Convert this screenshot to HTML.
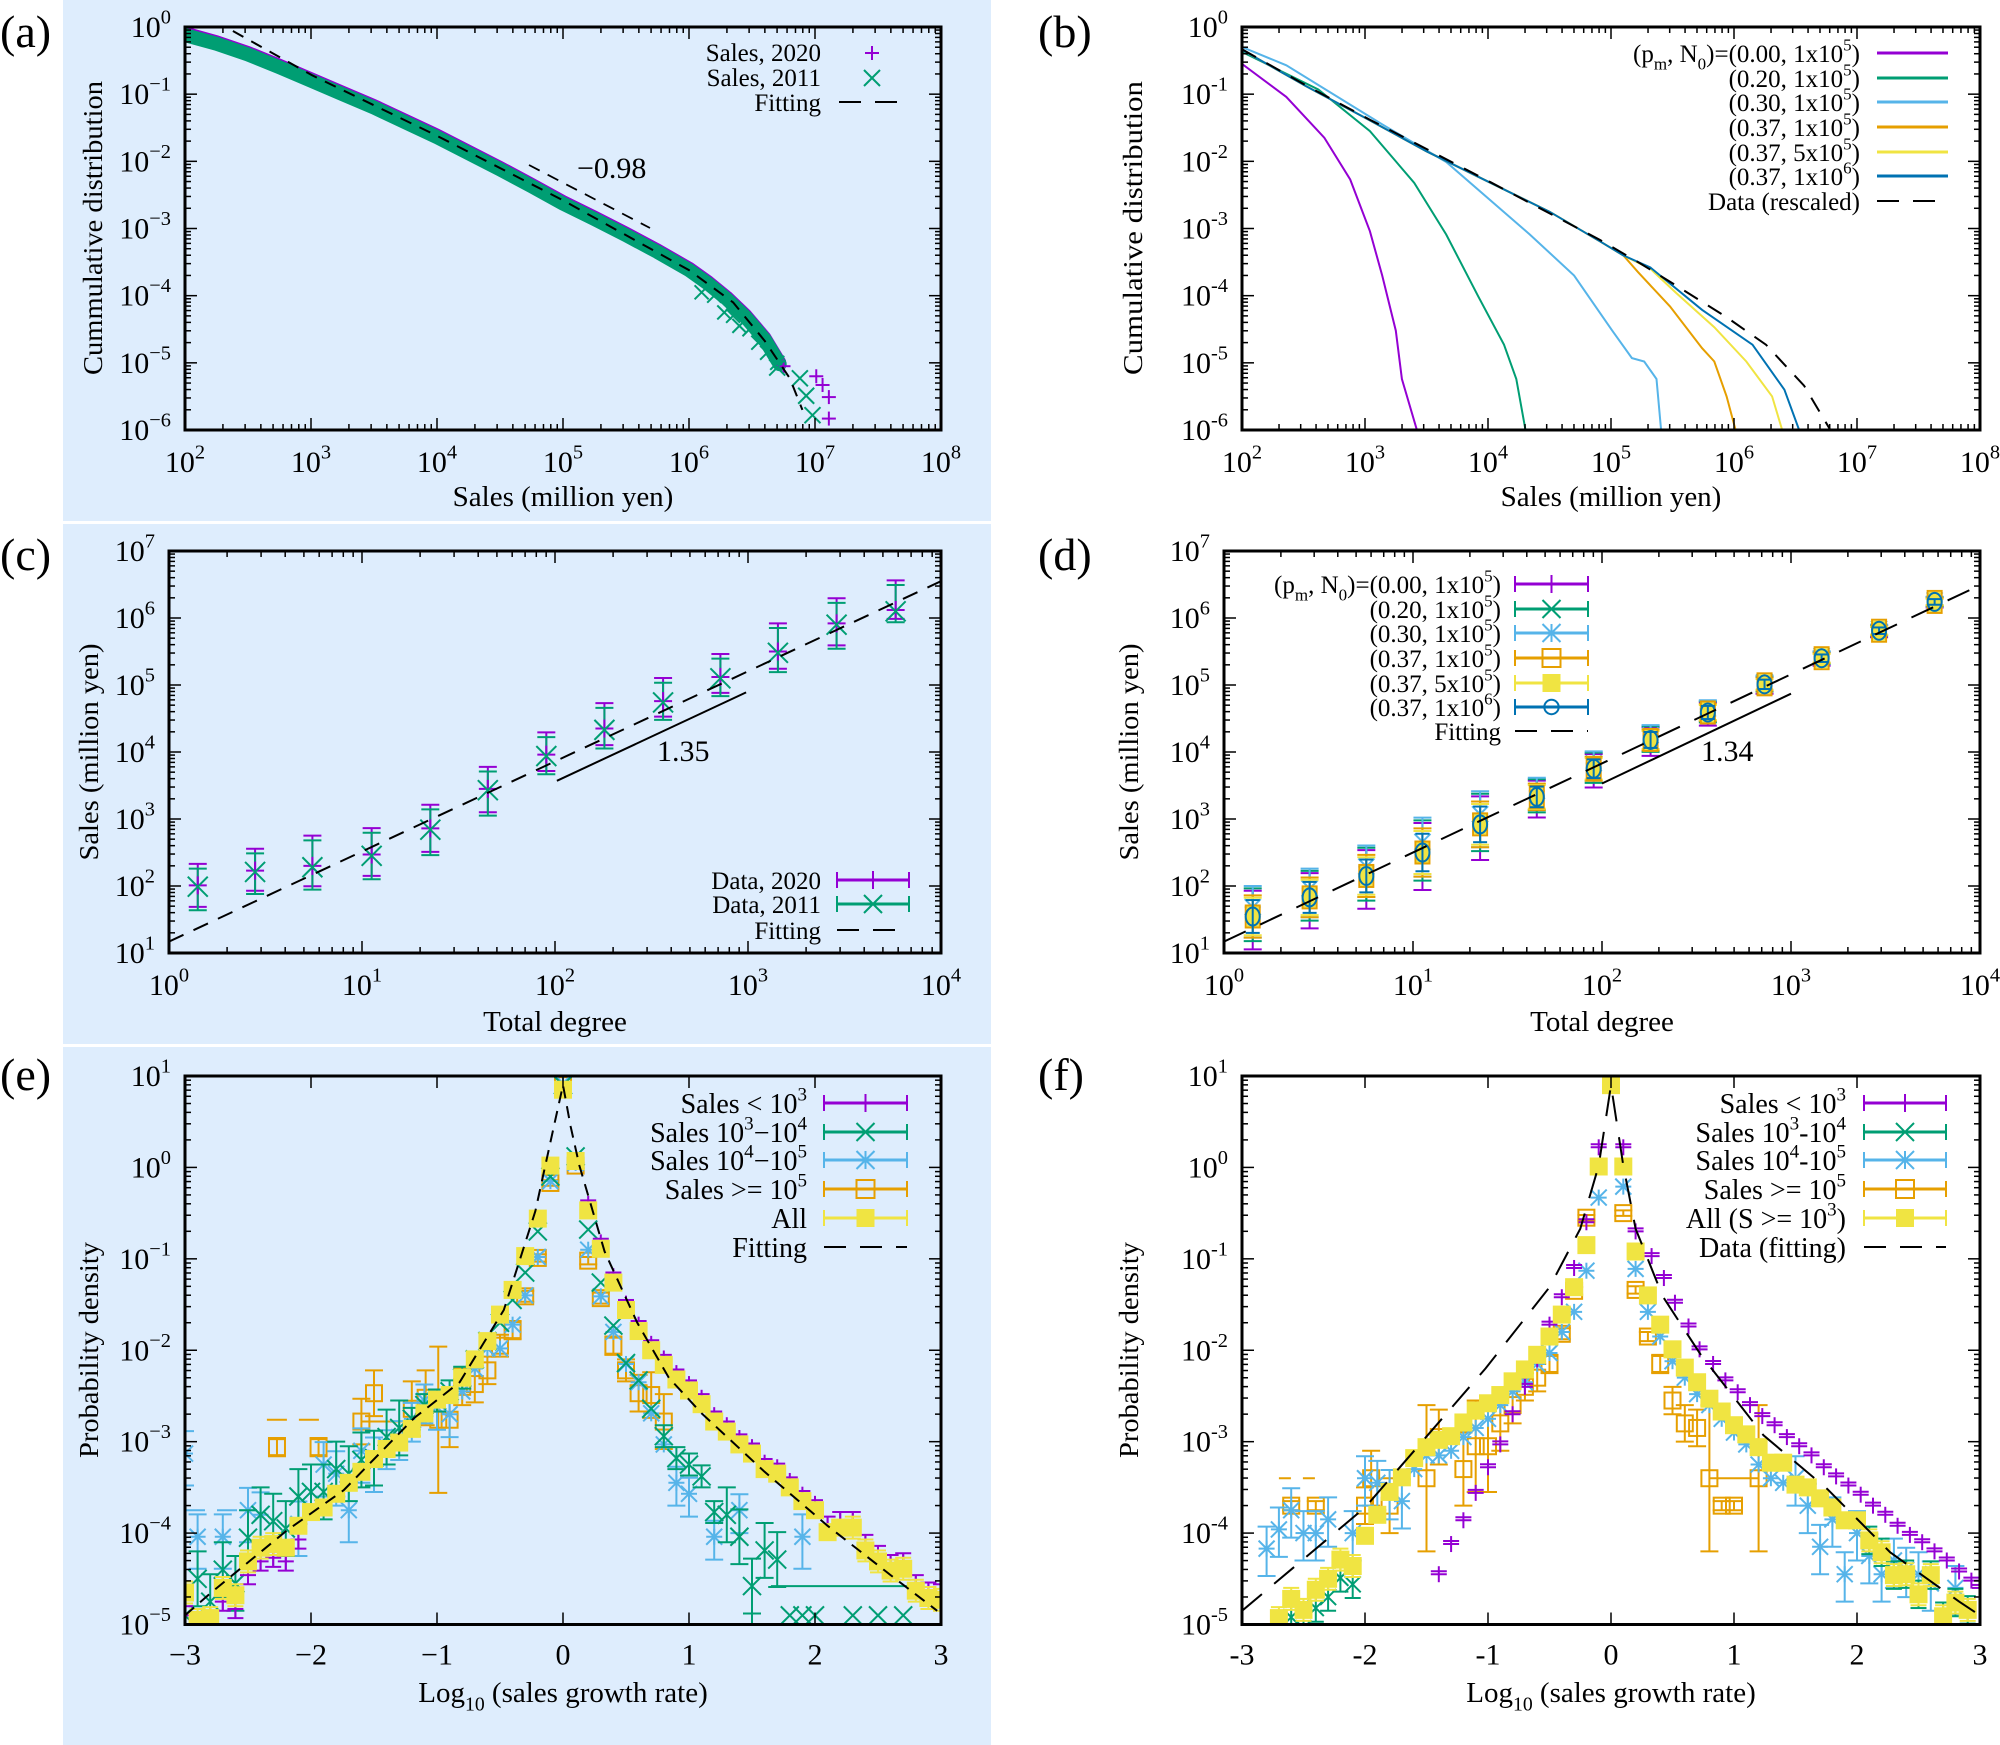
<!DOCTYPE html>
<html><head><meta charset="utf-8"><style>
html,body{margin:0;padding:0;background:#fff;}
svg{display:block;font-family:"Liberation Serif",serif;}
</style></head><body>
<svg id="s" width="2000" height="1745" viewBox="0 0 2000 1745" xmlns="http://www.w3.org/2000/svg">
<rect x="63" y="0" width="928" height="521" fill="#deedfd"/>
<rect x="63" y="524" width="928" height="520" fill="#deedfd"/>
<rect x="63" y="1047" width="928" height="698" fill="#deedfd"/>
</svg>
<script>
const NS='http://www.w3.org/2000/svg';
const svg=document.getElementById('s');
function el(tag,a,p){const e=document.createElementNS(NS,tag);for(const k in a)e.setAttribute(k,a[k]);(p||svg).appendChild(e);return e;}
function lab(x,y,parts,size,anchor,p,extra){
  const t=el('text',Object.assign({x:x,y:y,'font-size':size,'text-anchor':anchor||'start',fill:'#000'},extra||{}),p);
  let cur=0;
  for(const pt of parts){
    let s=pt,m='n'; if(Array.isArray(pt)){s=pt[0];m=pt[1];}
    const ts=document.createElementNS(NS,'tspan');
    let target=0,fs=size;
    if(m==='sup'){target=-0.45*size;fs=0.68*size;}
    if(m==='sub'){target=0.3*size;fs=0.68*size;}
    ts.setAttribute('dy',(target-cur).toFixed(1));ts.setAttribute('font-size',fs);
    ts.textContent=s;cur=target;t.appendChild(ts);
  }
  return t;
}
function Panel(x0,x1,y0,y1,xa,xb,ya,yb,xlog,ylog,id){
  const P={x0:x0,x1:x1,y0:y0,y1:y1,xa:xa,xb:xb,ya:ya,yb:yb,
    X:function(v){return x0+(v-xa)/(xb-xa)*(x1-x0);},Y:function(v){return y1-(v-ya)/(yb-ya)*(y1-y0);}};
  const cp=el('clipPath',{id:id});el('rect',{x:x0,y:y0,width:x1-x0,height:y1-y0},cp);
  P.g=el('g',{'clip-path':'url(#'+id+')'});
  const tk=function(v,major,axis){const L=major?12:6;
    if(axis==='x'){const x=P.X(v);el('line',{x1:x,y1:y1,x2:x,y2:y1-L,stroke:'#000','stroke-width':1.5});el('line',{x1:x,y1:y0,x2:x,y2:y0+L,stroke:'#000','stroke-width':1.5});}
    else{const y=P.Y(v);el('line',{x1:x0,y1:y,x2:x0+L,y2:y,stroke:'#000','stroke-width':1.5});el('line',{x1:x1,y1:y,x2:x1-L,y2:y,stroke:'#000','stroke-width':1.5});}};
  for(let d=xa;d<=xb;d++){tk(d,true,'x');if(xlog&&d<xb)for(let k=2;k<10;k++)tk(d+Math.log10(k),false,'x');}
  for(let d=ya;d<=yb;d++){tk(d,true,'y');if(ylog&&d<yb)for(let k=2;k<10;k++)tk(d+Math.log10(k),false,'y');}
  return P;
}
function frame(P){el('rect',{x:P.x0,y:P.y0,width:P.x1-P.x0,height:P.y1-P.y0,fill:'none',stroke:'#000','stroke-width':3});}
function xlabels(P,minus,log){for(let d=P.xa;d<=P.xb;d++){const x=P.X(d);
  if(log)lab(x,P.y1+42,['10',[String(d),'sup']],30,'middle');
  else lab(x,P.y1+40,[d<0?(minus+(-d)):String(d)],30,'middle');}}
function ylabels(P,minus){for(let d=P.ya;d<=P.yb;d++){const y=P.Y(d);
  lab(P.x0-14,y+10,['10',[d<0?minus+(-d):String(d),'sup']],30,'end');}}
function ytitle(x,yc,s,len){el('text',{x:0,y:0,transform:'translate('+x+','+yc+') rotate(-90)','text-anchor':'middle','font-size':27,textLength:len,lengthAdjust:'spacingAndGlyphs'}).textContent=s;}
function poly(P,pts,attrs,g){return el('polyline',Object.assign({points:pts.map(function(p){return P.X(p[0]).toFixed(1)+','+P.Y(p[1]).toFixed(1);}).join(' '),fill:'none'},attrs),g||P.g);}
const C={pu:'#9400d3',gr:'#009e73',lb:'#56b4e9',or:'#e69f00',ye:'#f0e442',db:'#0072b2'};
function mk(type,x,y,col,g,s){s=s||9;const sw=2;
  if(type==='+'||type==='*'){el('line',{x1:x-s,y1:y,x2:x+s,y2:y,stroke:col,'stroke-width':sw},g);el('line',{x1:x,y1:y-s,x2:x,y2:y+s,stroke:col,'stroke-width':sw},g);}
  if(type==='x'||type==='*'){el('line',{x1:x-s,y1:y-s,x2:x+s,y2:y+s,stroke:col,'stroke-width':sw},g);el('line',{x1:x-s,y1:y+s,x2:x+s,y2:y-s,stroke:col,'stroke-width':sw},g);}
  if(type==='os')el('rect',{x:x-s,y:y-s,width:2*s,height:2*s,fill:'none',stroke:col,'stroke-width':sw},g);
  if(type==='fs')el('rect',{x:x-s*0.75,y:y-s*0.75,width:1.5*s,height:1.5*s,fill:col},g);
  if(type==='oc')el('circle',{cx:x,cy:y,r:s*0.8,fill:'none',stroke:col,'stroke-width':sw},g);
}
function eb(x,ylo,yhi,col,g,w){w=w||9;el('line',{x1:x,y1:ylo,x2:x,y2:yhi,stroke:col,'stroke-width':2},g);
  el('line',{x1:x-w,y1:ylo,x2:x+w,y2:ylo,stroke:col,'stroke-width':2},g);el('line',{x1:x-w,y1:yhi,x2:x+w,y2:yhi,stroke:col,'stroke-width':2},g);}
function legLine(x1,x2,y,col,dash,mtype,g,bars){el('line',{x1:x1,y1:y,x2:x2,y2:y,stroke:col,'stroke-width':dash?2:3,'stroke-dasharray':dash?'22,14':'none'},g||svg);
  if(bars){el('line',{x1:x1,y1:y-8,x2:x1,y2:y+8,stroke:col,'stroke-width':2});el('line',{x1:x2,y1:y-8,x2:x2,y2:y+8,stroke:col,'stroke-width':2});}
  if(mtype)mk(mtype,(x1+x2)/2,y,col,svg,mtype==='fs'?12:9);}

/* ===== (a) ===== */
lab(0,47,['(a)'],46);
(function(){const P=Panel(185,941,27,430,2,8,-6,0,true,true,'ca');
 const band=[[2,-0.12],[2.25,-0.25],[2.5,-0.41],[2.75,-0.6],[3,-0.8],[3.25,-1.0],[3.5,-1.2],[3.75,-1.42],[4,-1.64],[4.25,-1.88],[4.5,-2.12],[4.75,-2.37],[5,-2.63],[5.25,-2.86],[5.5,-3.1],[5.75,-3.35],[6,-3.62],[6.15,-3.82],[6.3,-4.05],[6.45,-4.32],[6.6,-4.65],[6.72,-5.02]];
 poly(P,band.map(function(p){return [p[0],p[1]+0.03];}),{stroke:C.pu,'stroke-width':13,'stroke-linecap':'round','stroke-linejoin':'round'});
 poly(P,band,{stroke:C.gr,'stroke-width':14,'stroke-linecap':'round','stroke-linejoin':'round'});
 [[6.1,-3.95],[6.2,-4.0],[6.28,-4.25],[6.35,-4.3],[6.4,-4.45],[6.48,-4.5],[6.55,-4.7],[6.62,-4.85],[6.7,-5.0]].forEach(function(p){mk('x',P.X(p[0]),P.Y(p[1]),C.gr,P.g,7);});
 [[6.75,-5.05],[7.01,-5.2],[7.06,-5.33],[7.11,-5.51],[7.11,-5.83]].forEach(function(p){mk('+',P.X(p[0]),P.Y(p[1]),C.pu,P.g,7);});
 [[6.7,-5.07],[6.88,-5.23],[6.93,-5.49],[6.98,-5.78]].forEach(function(p){mk('x',P.X(p[0]),P.Y(p[1]),C.gr,P.g,8);});
 poly(P,[[2.38,-0.06],[3.01,-0.72],[4.0,-1.62],[5.0,-2.58],[6.0,-3.62],[6.35,-4.1],[6.6,-4.67],[6.8,-5.23],[6.9,-5.7]],{stroke:'#000','stroke-width':2,'stroke-dasharray':'12,9'});
 el('line',{x1:529,y1:165,x2:650,y2:228,stroke:'#000','stroke-width':1.8,'stroke-dasharray':'12,9'});
 lab(577,178,['−0.98'],30);
 frame(P);xlabels(P,'−',true);ylabels(P,'−');
 lab(563,506,['Sales (million yen)'],29,'middle');
 ytitle(102,228,'Cummulative distribution',294);
 lab(821,61,['Sales, 2020'],25,'end');mk('+',872,53,C.pu,svg,7);
 lab(821,86,['Sales, 2011'],25,'end');mk('x',872,78,C.gr,svg,8);
 lab(821,111,['Fitting'],25,'end');legLine(839,909,102,'#000',true);
})();
/* ===== (b) ===== */
lab(1038,47,['(b)'],46);
(function(){const P=Panel(1242,1980,27,430,2,8,-6,0,true,true,'cb');
 const common=[[2,-0.34],[2.52,-0.88],[3.04,-1.39],[3.5,-1.85],[4.02,-2.32],[4.5,-2.75],[4.91,-3.19],[5.1,-3.4]];
 poly(P,[[2,-0.55],[2.36,-1.04],[2.67,-1.65],[2.88,-2.27],[3.04,-3.04],[3.14,-3.7],[3.25,-4.52],[3.3,-5.24],[3.43,-6.05]],{stroke:C.pu,'stroke-width':2});
 poly(P,[[2,-0.37],[2.62,-0.93],[3.04,-1.55],[3.4,-2.32],[3.66,-3.09],[3.92,-4.01],[4.13,-4.73],[4.23,-5.24],[4.31,-6.05]],{stroke:C.gr,'stroke-width':2});
 poly(P,[[2,-0.3],[2.36,-0.57],[3.14,-1.45],[3.66,-2.01],[4.34,-3.09],[4.7,-3.7],[5.01,-4.52],[5.17,-4.93],[5.27,-4.98],[5.37,-5.24],[5.41,-6.05]],{stroke:C.lb,'stroke-width':2});
 poly(P,common.concat([[5.22,-3.65],[5.48,-4.16],[5.74,-4.78],[5.84,-4.98],[5.94,-5.5],[6.02,-6.05]]),{stroke:C.or,'stroke-width':2});
 poly(P,common.concat([[5.32,-3.6],[5.53,-3.96],[5.84,-4.47],[6.1,-4.98],[6.31,-5.5],[6.4,-6.05]]),{stroke:C.ye,'stroke-width':2});
 poly(P,common.concat([[5.32,-3.58],[5.74,-4.21],[6.15,-4.73],[6.41,-5.4],[6.54,-6.05]]),{stroke:C.db,'stroke-width':2});
 poly(P,[[2,-0.33],[2.52,-0.87],[3.04,-1.38],[4.02,-2.31],[4.91,-3.17],[5.22,-3.5],[5.53,-3.85],[5.94,-4.32],[6.26,-4.73],[6.57,-5.34],[6.8,-6.05]],{stroke:'#000','stroke-width':2,'stroke-dasharray':'16,12'});
 frame(P);xlabels(P,'-',true);ylabels(P,'-');
 lab(1611,506,['Sales (million yen)'],29,'middle');
 ytitle(1142,228,'Cumulative distribution',294);
 const rows=[53,78,102,127,152,176,201];
 const lt=[['(p',['m','sub'],', N',['0','sub'],')=(0.00, 1x10',['5','sup'],')'],
  ['(0.20, 1x10',['5','sup'],')'],['(0.30, 1x10',['5','sup'],')'],['(0.37, 1x10',['5','sup'],')'],['(0.37, 5x10',['5','sup'],')'],['(0.37, 1x10',['6','sup'],')'],['Data (rescaled)']];
 const cols=[C.pu,C.gr,C.lb,C.or,C.ye,C.db,'#000'];
 rows.forEach(function(y,i){lab(1860,y+9,lt[i],25,'end');legLine(1877,1948,y,cols[i],i===6);});
})();
/* ===== (c) ===== */
lab(0,570,['(c)'],46);
(function(){const P=Panel(169,941,551,953,0,4,1,7,true,true,'cc');
 const xs=[0.149,0.446,0.743,1.05,1.354,1.652,1.955,2.256,2.56,2.857,3.155,3.459,3.765];
 const yc=[1.99,2.21,2.28,2.45,2.84,3.43,3.94,4.33,4.74,5.1,5.48,5.9,6.1];
 const up=[1007,963,925,903,835,725,625,540,467,397,308,235,183],dn=[1130,1083,1070,1040,970,855,735,660,577,508,438,370,293];
 const dy=function(v){return 7-(v-90)/194.7;};
 xs.forEach(function(x,i){const X=P.X(x);
  eb(X,P.Y(dy(dn[i])+0.03),P.Y(dy(up[i])+0.04),C.pu,P.g);
  eb(X,P.Y(dy(dn[i])-0.02),P.Y(dy(up[i])-0.03),C.gr,P.g);
  mk('+',X,P.Y(yc[i]+0.02),C.pu,P.g);mk('x',X,P.Y(yc[i]),C.gr,P.g,10);});
 poly(P,[[0,1.17],[4,6.55]],{stroke:'#000','stroke-width':2,'stroke-dasharray':'16,11'});
 poly(P,[[2.01,3.57],[2.99,4.89]],{stroke:'#000','stroke-width':2});
 lab(657,761,['1.35'],30);
 frame(P);xlabels(P,'−',true);ylabels(P,'−');
 lab(555,1031,['Total degree'],29,'middle');
 ytitle(98,752,'Sales (million yen)',217);
 lab(821,889,['Data, 2020'],25,'end');legLine(837,909,880,C.pu,false,'+',svg,true);
 lab(821,913,['Data, 2011'],25,'end');legLine(837,909,904,C.gr,false,'x',svg,true);
 lab(821,939,['Fitting'],25,'end');legLine(837,909,930,'#000',true);
})();
/* ===== (d) ===== */
lab(1038,570,['(d)'],46);
(function(){const P=Panel(1224,1980,551,953,0,4,1,7,true,true,'cd');
 const xs=[0.152,0.453,0.753,1.05,1.355,1.655,1.956,2.257,2.56,2.86,3.162,3.466,3.76];
 const yc=[1.545,1.83,2.15,2.5,2.92,3.33,3.75,4.18,4.59,5.01,5.4,5.81,6.24];
 const sp=[0.35,0.33,0.35,0.4,0.38,0.22,0.2,0.17,0.14,0.1,0.08,0.07,0.06];
 xs.forEach(function(x,i){const X=P.X(x),y=yc[i],s=sp[i];
  eb(X,P.Y(y-s*1.4),P.Y(y+s*1.1),C.pu,P.g);
  eb(X,P.Y(y-s*1.05),P.Y(y+s*1.2),C.gr,P.g);
  eb(X,P.Y(y-s*0.9),P.Y(y+s*1.3),C.lb,P.g);
  mk('*',X,P.Y(y+s*0.4),C.lb,P.g,8);
  eb(X,P.Y(y-s*0.9),P.Y(y+s*0.9),C.or,P.g);
  eb(X,P.Y(y-s*0.8),P.Y(y+s*0.8),C.ye,P.g);
  el('rect',{x:X-7,y:P.Y(y)-11,width:14,height:22,fill:'none',stroke:C.or,'stroke-width':2},P.g);
  el('rect',{x:X-6,y:P.Y(y)-10,width:12,height:20,fill:C.ye},P.g);
  eb(X,P.Y(y-s*0.7),P.Y(y+s*0.7),C.db,P.g,7);
  el('ellipse',{cx:X,cy:P.Y(y),rx:7,ry:9,fill:'none',stroke:C.db,'stroke-width':2},P.g);});
 poly(P,[[0,1.17],[4,6.49]],{stroke:'#000','stroke-width':2,'stroke-dasharray':'24,16'});
 poly(P,[[2.0,3.53],[3.0,4.87]],{stroke:'#000','stroke-width':2});
 lab(1701,761,['1.34'],30);
 frame(P);xlabels(P,'−',true);ylabels(P,'−');
 lab(1602,1031,['Total degree'],29,'middle');
 ytitle(1138,752,'Sales (million yen)',217);
 const rows=[584,609,633,658,683,707,731];
 const lt=[['(p',['m','sub'],', N',['0','sub'],')=(0.00, 1x10',['5','sup'],')'],
  ['(0.20, 1x10',['5','sup'],')'],['(0.30, 1x10',['5','sup'],')'],['(0.37, 1x10',['5','sup'],')'],['(0.37, 5x10',['5','sup'],')'],['(0.37, 1x10',['6','sup'],')'],['Fitting']];
 const cols=[C.pu,C.gr,C.lb,C.or,C.ye,C.db,'#000'],mt=['+','x','*','os','fs','oc',null];
 rows.forEach(function(y,i){lab(1501,y+9,lt[i],25,'end');legLine(1515,1588,y,cols[i],i===6,mt[i],svg,i<6);});
})();
/* ===== (e) ===== */
lab(0,1090,['(e)'],46);
const Ye=[[-3,-4.65],[-2.9,-4.95],[-2.8,-4.93],[-2.7,-4.6],[-2.6,-4.68],[-2.5,-4.31],[-2.4,-4.16],[-2.3,-4.12],[-2.2,-4.16],[-2.1,-3.92],[-2,-3.77],[-1.9,-3.72],[-1.8,-3.57],[-1.7,-3.45],[-1.6,-3.33],[-1.5,-3.19],[-1.4,-3.08],[-1.3,-3.01],[-1.2,-2.86],[-1.1,-2.69],[-1,-2.54],[-0.9,-2.49],[-0.8,-2.3],[-0.7,-2.1],[-0.6,-1.9],[-0.5,-1.61],[-0.4,-1.34],[-0.3,-0.97],[-0.2,-0.56],[-0.1,0.02],[0,0.85],[0.1,0.07],[0.2,-0.47],[0.3,-0.89],[0.4,-1.26],[0.5,-1.56],[0.6,-1.79],[0.7,-2.0],[0.8,-2.16],[0.9,-2.32],[1,-2.44],[1.1,-2.59],[1.2,-2.78],[1.3,-2.89],[1.4,-3.03],[1.5,-3.13],[1.6,-3.3],[1.7,-3.35],[1.8,-3.5],[1.9,-3.65],[2,-3.75],[2.1,-3.99],[2.2,-3.94],[2.3,-3.94],[2.4,-4.19],[2.5,-4.31],[2.6,-4.41],[2.7,-4.39],[2.8,-4.63],[2.9,-4.71],[3,-4.73]];
(function(){const P=Panel(185,941,1076,1624.5,-3,3,-5,1,false,true,'ce');
 const g=P.g;
 const Oe=[[-2.27,-3.06,0.1],[-1.94,-3.06,0.1],[-1.6,-2.78,0.25],[-1.5,-2.47,0.25],[-1.2,-2.64,0.3],[-1.09,-2.52,0.3],[-0.99,-2.76,0.8],[-0.9,-2.76,0.3],[-0.8,-2.4,0.2],[-0.7,-2.37,0.2],[-0.6,-2.22,0.15],[-0.5,-1.95,0.12],[-0.4,-1.78,0.1],[-0.3,-1.41,0.06],[-0.2,-0.99,0.04],[-0.1,-0.17,0.03],[0,0.9,0.02],[0.1,0.02,0.03],[0.2,-1.02,0.04],[0.3,-1.43,0.06],[0.4,-1.95,0.1],[0.5,-2.22,0.12],[0.6,-2.47,0.2],[0.7,-2.49,0.25],[0.8,-2.78,0.3]];
 Oe.forEach(function(p){const X=P.X(p[0]);eb(X,P.Y(p[1]-p[2]),P.Y(p[1]+p[2]),C.or,g);mk('os',X,P.Y(p[1]),C.or,g,8);});
 el('line',{x1:P.X(-2.35),y1:P.Y(-2.76),x2:P.X(-1.85),y2:P.Y(-2.76),stroke:C.or,'stroke-width':2,'stroke-dasharray':'20,12'},g);
 el('line',{x1:P.X(-1.6),y1:P.Y(-2.78),x2:P.X(-1.1),y2:P.Y(-2.78),stroke:C.or,'stroke-width':2},g);
 const Be=[[-3,-3.13],[-2.9,-4.04],[-2.7,-4.04],[-2.5,-3.75],[-2.4,-3.8],[-2.1,-3.9],[-1.9,-3.25],[-1.8,-3.35],[-1.7,-3.75],[-1.6,-3.1],[-1.5,-3.2],[-1.4,-3.05],[-1.3,-2.95],[-1.2,-2.75],[-1.1,-2.55],[-1.0,-2.62],[-0.9,-2.7],[-0.8,-2.45],[-0.7,-2.2],[-0.6,-1.98],[-0.5,-1.98],[-0.4,-1.72],[-0.3,-1.4],[-0.2,-0.98],[-0.1,-0.15],[0,0.92],[0.1,0.05],[0.2,-0.9],[0.3,-1.41],[0.4,-1.8],[0.5,-2.15],[0.6,-2.35],[0.7,-2.69],[0.8,-3.03],[0.9,-3.45],[1.0,-3.57],[1.2,-4.04],[1.4,-3.75],[1.9,-4.04]];
 Be.forEach(function(p){const X=P.X(p[0]);const e=Math.abs(p[0])>1.4?0.35:Math.abs(p[0])>0.8?0.25:0.06;if(e>0.06)eb(X,P.Y(p[1]-e),P.Y(p[1]+e*0.7),C.lb,g);mk('*',X,P.Y(p[1]),C.lb,g,8);});
 el('line',{x1:P.X(-3),y1:P.Y(-3.75),x2:P.X(-2.55),y2:P.Y(-3.75),stroke:C.lb,'stroke-width':2,'stroke-dasharray':'20,12'},g);
 const Ge=[[-3,-4.9],[-2.9,-4.5],[-2.8,-4.75],[-2.7,-4.4],[-2.6,-4.55],[-2.5,-4.05],[-2.4,-3.8],[-2.3,-3.87],[-2.2,-3.95],[-2.1,-3.6],[-2,-3.55],[-1.9,-3.55],[-1.8,-3.3],[-1.7,-3.35],[-1.6,-3.2],[-1.5,-3.18],[-1.4,-2.95],[-1.3,-2.85],[-1.2,-2.75],[-1.1,-2.6],[-1,-2.55],[-0.9,-2.45],[-0.8,-2.3],[-0.7,-2.1],[-0.6,-1.9],[-0.5,-1.7],[-0.4,-1.45],[-0.3,-1.15],[-0.2,-0.7],[-0.1,-0.1],[0,0.9],[0.1,0.12],[0.2,-0.68],[0.3,-1.26],[0.4,-1.73],[0.5,-2.14],[0.6,-2.33],[0.7,-2.64],[0.8,-2.94],[0.9,-3.18],[1.0,-3.25],[1.1,-3.38],[1.2,-3.77],[1.3,-3.8],[1.4,-4.04],[1.5,-4.58],[1.6,-4.19],[1.7,-4.29],[1.8,-4.9],[1.9,-4.9],[2.0,-4.9],[2.3,-4.9],[2.5,-4.9],[2.7,-4.9]];
 Ge.forEach(function(p){const X=P.X(p[0]);const a=Math.abs(p[0]);const e=a>1.2?0.3:a>0.7?0.12:0.04;if(e>0.04&&p[1]>-4.85)eb(X,P.Y(p[1]-e),P.Y(p[1]+e),C.gr,g);mk('x',X,P.Y(p[1]),C.gr,g,9);});
 el('line',{x1:P.X(1.65),y1:P.Y(-4.58),x2:P.X(2.75),y2:P.Y(-4.58),stroke:C.gr,'stroke-width':2},g);
 el('line',{x1:P.X(1.5),y1:P.Y(-4.58),x2:P.X(1.5),y2:P.Y(-5.1),stroke:C.gr,'stroke-width':2},g);
 Ye.forEach(function(p){const X=P.X(p[0]);const y=p[0]>0.1?p[1]+0.07:p[1]-(p[0]<-2?0.15:0);const e=Math.abs(p[0])>2?0.1:0.04;eb(X,P.Y(y-e),P.Y(y+e),C.pu,g,8);mk('+',X,P.Y(y),C.pu,g,8);});
 Ye.forEach(function(p){const X=P.X(p[0]);const e=Math.abs(p[0])>2.2?0.12:0.03;eb(X,P.Y(p[1]-e),P.Y(p[1]+e),C.ye,g,8);el('rect',{x:X-9,y:P.Y(p[1])-9,width:18,height:18,fill:C.ye},g);});
 poly(P,[[-3,-4.9],[-2.8,-4.66],[-2.19,-3.97],[-1.74,-3.53],[-1.18,-2.74],[-0.82,-2.35],[-0.47,-1.56],[-0.22,-0.48],[-0.08,0.4],[0,0.9],[0.06,0.45],[0.13,0.02],[0.33,-0.92],[0.59,-1.7],[0.84,-2.3],[1.1,-2.69],[1.6,-3.33],[2.1,-3.92],[2.6,-4.46],[2.97,-4.85]],{stroke:'#000','stroke-width':2,'stroke-dasharray':'12,8'});
 frame(P);xlabels(P,'−',false);ylabels(P,'−');
 lab(563,1702,['Log',['10','sub'],' (sales growth rate)'],29,'middle');
 ytitle(98,1350,'Probability density',216);
 const rows=[1103,1132,1160,1189,1218,1247];
 const lt=[['Sales < 10',['3','sup']],['Sales 10',['3','sup'],'−10',['4','sup']],['Sales 10',['4','sup'],'−10',['5','sup']],['Sales >= 10',['5','sup']],['All'],['Fitting']];
 const cols=[C.pu,C.gr,C.lb,C.or,C.ye,'#000'],mt=['+','x','*','os','fs',null];
 rows.forEach(function(y,i){lab(807,y+10,lt[i],28,'end');legLine(824,907,y,cols[i],i===5,mt[i],svg,i<5);});
})();
/* ===== (f) ===== */
lab(1038,1090,['(f)'],46);
(function(){const P=Panel(1242,1980,1076,1624.5,-3,3,-5,1,false,true,'cf');
 const g=P.g;
 const Yf=[[-2.7,-4.93],[-2.6,-4.72],[-2.5,-4.84],[-2.4,-4.62],[-2.3,-4.5],[-2.2,-4.29],[-2.1,-4.36],[-2,-4.03],[-1.9,-3.8],[-1.8,-3.55],[-1.7,-3.39],[-1.6,-3.18],[-1.5,-3.06],[-1.4,-2.98],[-1.3,-2.94],[-1.2,-2.79],[-1.1,-2.66],[-1,-2.58],[-0.9,-2.49],[-0.8,-2.34],[-0.7,-2.21],[-0.6,-2.05],[-0.5,-1.85],[-0.4,-1.61],[-0.3,-1.31],[-0.2,-0.85],[-0.1,0.01],[0,0.9],[0.1,0.01],[0.2,-0.92],[0.3,-1.4],[0.4,-1.72],[0.5,-1.99],[0.6,-2.19],[0.7,-2.35],[0.8,-2.53],[0.9,-2.67],[1,-2.82],[1.1,-2.92],[1.2,-3.06],[1.3,-3.23],[1.4,-3.23],[1.5,-3.47],[1.6,-3.5],[1.7,-3.62],[1.8,-3.72],[1.9,-3.86],[2,-3.86],[2.1,-4.08],[2.2,-4.21],[2.3,-4.46],[2.4,-4.45],[2.5,-4.67],[2.6,-4.46],[2.7,-4.91],[2.8,-4.76],[2.9,-4.84]];
 const Of=[[-2.6,-3.7,0.05],[-2.4,-3.7,0.05],[-2,-3.7,0.2],[-1.95,-3.4,0.3],[-1.8,-3.7,0.3],[-1.5,-3.4,0.8],[-1.4,-2.95,0.3],[-1.2,-3.3,0.4],[-1.1,-3.05,0.5],[-1,-3.05,0.5],[-0.9,-2.8,0.3],[-0.8,-2.6,0.2],[-0.7,-2.4,0.15],[-0.6,-2.3,0.15],[-0.5,-2.15,0.1],[-0.4,-1.82,0.06],[-0.3,-1.35,0.04],[-0.2,-0.55,0.03],[0,0.92,0.02],[0.1,-0.5,0.03],[0.2,-1.34,0.04],[0.3,-1.85,0.05],[0.4,-2.15,0.1],[0.5,-2.55,0.15],[0.6,-2.8,0.2],[0.7,-2.85,0.2],[0.8,-3.4,0.8],[0.9,-3.7,0.05],[1,-3.7,0.05],[1.2,-3.4,0.8]];
 Of.forEach(function(p){const X=P.X(p[0]);eb(X,P.Y(p[1]-p[2]),P.Y(p[1]+p[2]),C.or,g);mk('os',X,P.Y(p[1]),C.or,g,8);});
 el('line',{x1:P.X(-2.7),y1:P.Y(-3.4),x2:P.X(-2.4),y2:P.Y(-3.4),stroke:C.or,'stroke-width':2,'stroke-dasharray':'12,12'},g);
 el('line',{x1:P.X(0.8),y1:P.Y(-3.4),x2:P.X(1.2),y2:P.Y(-3.4),stroke:C.or,'stroke-width':2},g);
 const Bf=[[-2.8,-4.17],[-2.7,-3.96],[-2.6,-3.75],[-2.5,-4.0],[-2.4,-4.0],[-2.3,-3.85],[-2.1,-4.0],[-2,-3.4],[-1.9,-3.45],[-1.8,-3.55],[-1.7,-3.65],[-1.6,-3.3],[-1.5,-3.15],[-1.4,-3.15],[-1.3,-3.1],[-1.2,-2.95],[-1.1,-2.85],[-1,-2.75],[-0.9,-2.6],[-0.8,-2.45],[-0.7,-2.35],[-0.6,-2.15],[-0.5,-2.03],[-0.4,-1.8],[-0.3,-1.58],[-0.2,-1.13],[-0.1,-0.33],[0,0.9],[0.1,-0.21],[0.2,-1.11],[0.3,-1.58],[0.4,-1.85],[0.5,-2.12],[0.6,-2.3],[0.7,-2.48],[0.8,-2.6],[0.9,-2.75],[1,-2.9],[1.1,-3.03],[1.2,-3.25],[1.3,-3.4],[1.4,-3.45],[1.5,-3.4],[1.6,-3.7],[1.7,-4.15],[1.8,-3.85],[1.9,-4.45],[2,-4.0],[2.1,-4.25],[2.2,-4.45],[2.3,-4.3],[2.4,-4.4],[2.5,-4.45],[2.6,-4.55],[2.8,-4.6]];
 Bf.forEach(function(p){const X=P.X(p[0]);const e=(p[0]<-1.6||p[0]>1.4)?0.3:0.06;if(e>0.06)eb(X,P.Y(p[1]-e),P.Y(p[1]+e*0.8),C.lb,g);mk('*',X,P.Y(p[1]),C.lb,g,8);});
 Yf.forEach(function(p){const X=P.X(p[0]);const y=p[1]+(p[0]<-2?-0.2:0);const e=Math.abs(p[0])>2?0.15:0.04;eb(X,P.Y(y-e),P.Y(y+e),C.gr,g,8);mk('x',X,P.Y(y),C.gr,g,8);});
 const Pf=[[-1.4,-4.45],[-1.3,-4.12],[-1.2,-3.86],[-1.1,-3.56],[-1.0,-3.28],[-0.9,-3.03],[-0.8,-2.7],[-0.7,-2.4],[-0.6,-2.1],[-0.5,-1.72],[-0.4,-1.42],[-0.3,-1.1],[-0.2,-0.6],[-0.1,0.22],[0,0.92],[0.1,0.22],[0.2,-0.7],[0.33,-0.97],[0.43,-1.21],[0.52,-1.48],[0.63,-1.74],[0.72,-1.99],[0.83,-2.15],[0.93,-2.33],[1.03,-2.46],[1.13,-2.6],[1.23,-2.72],[1.33,-2.82],[1.43,-2.95],[1.53,-3.05],[1.63,-3.15],[1.73,-3.28],[1.83,-3.38],[1.93,-3.48],[2.03,-3.58],[2.13,-3.7],[2.23,-3.8],[2.33,-3.92],[2.43,-4.02],[2.53,-4.1],[2.63,-4.2],[2.73,-4.3],[2.83,-4.42],[2.93,-4.52],[3.0,-4.6]];
 Pf.forEach(function(p){const X=P.X(p[0]);mk('+',X,P.Y(p[1]),C.pu,g,8);el('line',{x1:X-8,y1:P.Y(p[1])-3,x2:X+8,y2:P.Y(p[1])-3,stroke:C.pu,'stroke-width':2},g);});
 Yf.forEach(function(p){const X=P.X(p[0]);const e=Math.abs(p[0])>2?0.12:0.03;eb(X,P.Y(p[1]-e),P.Y(p[1]+e),C.ye,g,8);el('rect',{x:X-9,y:P.Y(p[1])-9,width:18,height:18,fill:C.ye},g);});
 poly(P,[[-3,-4.85],[-2,-3.72],[-1.02,-2.2],[-0.5,-1.31],[-0.25,-0.67],[-0.1,0.02],[0,0.9],[0.1,0.02],[0.2,-0.67],[0.42,-1.41],[0.73,-2.05],[1.24,-2.93],[1.76,-3.52],[2.27,-4.21],[2.83,-4.75],[3,-4.9]],{stroke:'#000','stroke-width':2,'stroke-dasharray':'26,16'});
 frame(P);xlabels(P,'-',false);ylabels(P,'-');
 lab(1611,1702,['Log',['10','sub'],' (sales growth rate)'],29,'middle');
 ytitle(1138,1350,'Probability density',216);
 const rows=[1103,1132,1160,1189,1218,1247];
 const lt=[['Sales < 10',['3','sup']],['Sales 10',['3','sup'],'-10',['4','sup']],['Sales 10',['4','sup'],'-10',['5','sup']],['Sales >= 10',['5','sup']],['All (S >= 10',['3','sup'],')'],['Data (fitting)']];
 const cols=[C.pu,C.gr,C.lb,C.or,C.ye,'#000'],mt=['+','x','*','os','fs',null];
 rows.forEach(function(y,i){lab(1846,y+10,lt[i],28,'end');legLine(1864,1946,y,cols[i],i===5,mt[i],svg,i<5);});
})();
</script>
</body></html>
